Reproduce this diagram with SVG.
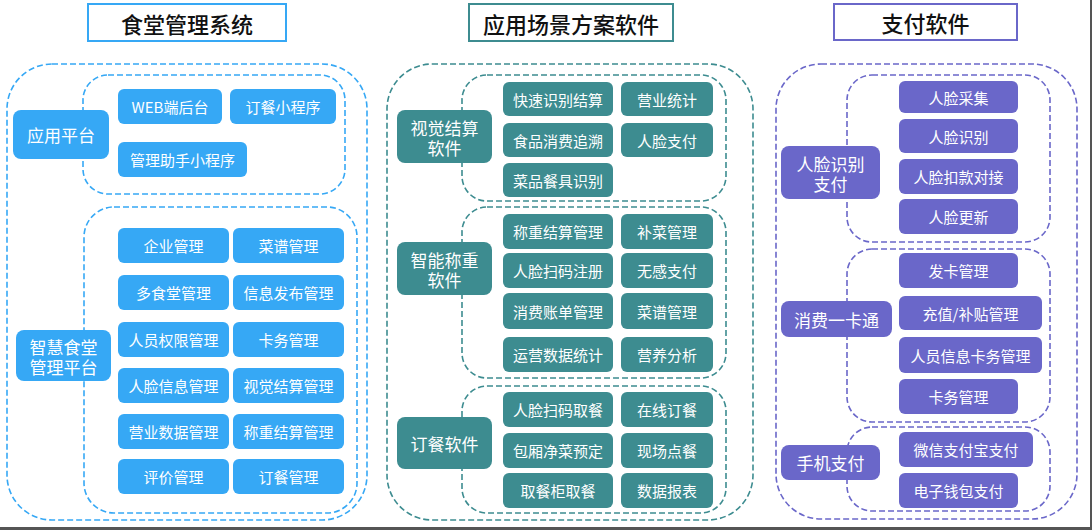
<svg xmlns="http://www.w3.org/2000/svg" width="1092" height="530" viewBox="0 0 1092 530">
<defs>
<style>
.title{fill:#fff;stroke-width:2}
.tt{font-family:"Noto Sans CJK SC","Noto Sans",sans-serif;font-size:22px;fill:#111;text-anchor:middle;dominant-baseline:central;font-weight:500}
.lbl{font-family:"Noto Sans CJK SC","Noto Sans",sans-serif;fill:#fff;text-anchor:middle;dominant-baseline:central;font-size:15px}
.cat{font-size:17px}
.dash{fill:none;stroke-width:1.6;stroke-dasharray:6 3}
.b{fill:#36A8F5}.bs{stroke:#36A8F5}
.t{fill:#3D8C90}.ts{stroke:#3D8C90}
.p{fill:#6A67C9}.ps{stroke:#6A67C9}
</style>
</defs>
<rect x="0" y="0" width="1092" height="530" fill="#fff"/>
<!-- containers -->
<g id="containers">
<rect class="dash bs" x="7" y="64" width="360" height="456" rx="45"/>
<rect class="dash bs" x="83" y="75" width="262" height="119" rx="25"/>
<rect class="dash bs" x="84" y="207" width="273" height="306" rx="30"/>
<rect class="dash ts" x="387" y="64" width="366" height="456" rx="45"/>
<rect class="dash ts" x="462" y="75" width="264" height="126" rx="25"/>
<rect class="dash ts" x="462" y="207" width="264" height="171" rx="25"/>
<rect class="dash ts" x="462" y="386" width="264" height="127" rx="25"/>
<rect class="dash ps" x="776" y="64" width="301" height="455" rx="45"/>
<rect class="dash ps" x="847" y="75" width="203" height="167" rx="25"/>
<rect class="dash ps" x="847" y="249" width="203" height="173" rx="25"/>
<rect class="dash ps" x="847" y="427" width="203" height="84" rx="25"/>
</g>
<g id="connectors"></g>
<!-- titles -->
<g id="title1"><rect class="title bs" x="88" y="4" width="198" height="37"/><text class="tt" x="187" y="23">食堂管理系统</text></g>
<g id="title2"><rect class="title ts" x="469" y="4" width="204" height="37"/><text class="tt" x="571" y="23">应用场景方案软件</text></g>
<g id="title3"><rect class="title ps" x="834" y="4" width="183" height="36"/><text class="tt" x="925.5" y="22">支付软件</text></g>
<!-- column 1 -->
<g id="n-yypt"><rect class="b" x="13" y="110" width="96" height="49" rx="8"/><text class="lbl cat" x="61" y="134.5">应用平台</text></g>
<g id="n-web"><rect class="b" x="118" y="89" width="104" height="35" rx="6"/><text class="lbl" x="170" y="106.5">WEB端后台</text></g>
<g id="n-dcxcx"><rect class="b" x="230" y="89" width="106" height="35" rx="6"/><text class="lbl" x="283" y="106.5">订餐小程序</text></g>
<g id="n-glzs"><rect class="b" x="118" y="142" width="129" height="35" rx="6"/><text class="lbl" x="182.5" y="159.5">管理助手小程序</text></g>
<g id="n-zhst"><rect class="b" x="16" y="330" width="95" height="51" rx="8"/><text class="lbl cat" x="63.5" y="355.5"><tspan x="63.5" dy="-10">智慧食堂</tspan><tspan x="63.5" dy="20">管理平台</tspan></text></g>
<g id="n-qygl"><rect class="b" x="118" y="228" width="111" height="35" rx="6"/><text class="lbl" x="173.5" y="245.5">企业管理</text></g>
<g id="n-cpgl"><rect class="b" x="233" y="228" width="111" height="35" rx="6"/><text class="lbl" x="288.5" y="245.5">菜谱管理</text></g>
<g id="n-dstgl"><rect class="b" x="118" y="275" width="111" height="35" rx="6"/><text class="lbl" x="173.5" y="292.5">多食堂管理</text></g>
<g id="n-xxfb"><rect class="b" x="233" y="275" width="111" height="35" rx="6"/><text class="lbl" x="288.5" y="292.5">信息发布管理</text></g>
<g id="n-rygl"><rect class="b" x="118" y="322" width="111" height="35" rx="6"/><text class="lbl" x="173.5" y="339.5">人员权限管理</text></g>
<g id="n-kwgl"><rect class="b" x="233" y="322" width="111" height="35" rx="6"/><text class="lbl" x="288.5" y="339.5">卡务管理</text></g>
<g id="n-rlxx"><rect class="b" x="118" y="368" width="111" height="35" rx="6"/><text class="lbl" x="173.5" y="385.5">人脸信息管理</text></g>
<g id="n-sjjs"><rect class="b" x="233" y="368" width="111" height="35" rx="6"/><text class="lbl" x="288.5" y="385.5">视觉结算管理</text></g>
<g id="n-yysj"><rect class="b" x="118" y="414" width="111" height="35" rx="6"/><text class="lbl" x="173.5" y="431.5">营业数据管理</text></g>
<g id="n-czjs"><rect class="b" x="233" y="414" width="111" height="35" rx="6"/><text class="lbl" x="288.5" y="431.5">称重结算管理</text></g>
<g id="n-pjgl"><rect class="b" x="118" y="459" width="111" height="35" rx="6"/><text class="lbl" x="173.5" y="476.5">评价管理</text></g>
<g id="n-dcgl"><rect class="b" x="233" y="459" width="111" height="35" rx="6"/><text class="lbl" x="288.5" y="476.5">订餐管理</text></g>
<!-- column 2 -->
<g id="n-sjjsrj"><rect class="t" x="397" y="110" width="95" height="53" rx="8"/><text class="lbl cat" x="444.5" y="136.5"><tspan x="444.5" dy="-10">视觉结算</tspan><tspan x="444.5" dy="20">软件</tspan></text></g>
<g id="n-ksjs"><rect class="t" x="503" y="82" width="110" height="34" rx="6"/><text class="lbl" x="558" y="99">快速识别结算</text></g>
<g id="n-yytj"><rect class="t" x="621" y="82" width="92" height="34" rx="6"/><text class="lbl" x="667" y="99">营业统计</text></g>
<g id="n-spxf"><rect class="t" x="503" y="123" width="110" height="34" rx="6"/><text class="lbl" x="558" y="140">食品消费追溯</text></g>
<g id="n-rlzf"><rect class="t" x="621" y="123" width="92" height="34" rx="6"/><text class="lbl" x="667" y="140">人脸支付</text></g>
<g id="n-cpcj"><rect class="t" x="503" y="163" width="110" height="34" rx="6"/><text class="lbl" x="558" y="180">菜品餐具识别</text></g>
<g id="n-znczrj"><rect class="t" x="397" y="242" width="95" height="53" rx="8"/><text class="lbl cat" x="444.5" y="268.5"><tspan x="444.5" dy="-10">智能称重</tspan><tspan x="444.5" dy="20">软件</tspan></text></g>
<g id="n-czjsgl"><rect class="t" x="503" y="214" width="110" height="35" rx="6"/><text class="lbl" x="558" y="231.5">称重结算管理</text></g>
<g id="n-bcgl"><rect class="t" x="621" y="214" width="92" height="35" rx="6"/><text class="lbl" x="667" y="231.5">补菜管理</text></g>
<g id="n-rlsmzc"><rect class="t" x="503" y="253" width="110" height="35" rx="6"/><text class="lbl" x="558" y="270.5">人脸扫码注册</text></g>
<g id="n-wgzf"><rect class="t" x="621" y="253" width="92" height="35" rx="6"/><text class="lbl" x="667" y="270.5">无感支付</text></g>
<g id="n-xfzd"><rect class="t" x="503" y="293" width="110" height="36" rx="6"/><text class="lbl" x="558" y="311">消费账单管理</text></g>
<g id="n-cpgl2"><rect class="t" x="621" y="293" width="92" height="36" rx="6"/><text class="lbl" x="667" y="311">菜谱管理</text></g>
<g id="n-yysjtj"><rect class="t" x="503" y="337" width="110" height="35" rx="6"/><text class="lbl" x="558" y="354.5">运营数据统计</text></g>
<g id="n-yyfx"><rect class="t" x="621" y="337" width="92" height="35" rx="6"/><text class="lbl" x="667" y="354.5">营养分析</text></g>
<g id="n-dcrj"><rect class="t" x="397" y="417" width="95" height="52" rx="8"/><text class="lbl cat" x="444.5" y="443">订餐软件</text></g>
<g id="n-rlsmqc"><rect class="t" x="503" y="392" width="110" height="35" rx="6"/><text class="lbl" x="558" y="409.5">人脸扫码取餐</text></g>
<g id="n-zxdc"><rect class="t" x="621" y="392" width="92" height="35" rx="6"/><text class="lbl" x="667" y="409.5">在线订餐</text></g>
<g id="n-bxjc"><rect class="t" x="503" y="433" width="110" height="35" rx="6"/><text class="lbl" x="558" y="450.5">包厢净菜预定</text></g>
<g id="n-xcdc"><rect class="t" x="621" y="433" width="92" height="35" rx="6"/><text class="lbl" x="667" y="450.5">现场点餐</text></g>
<g id="n-qcgqc"><rect class="t" x="503" y="473" width="110" height="35" rx="6"/><text class="lbl" x="558" y="490.5">取餐柜取餐</text></g>
<g id="n-sjbb"><rect class="t" x="621" y="473" width="92" height="35" rx="6"/><text class="lbl" x="667" y="490.5">数据报表</text></g>
<!-- column 3 -->
<g id="n-rlsbzf"><rect class="p" x="781" y="146" width="99" height="53" rx="8"/><text class="lbl cat" x="830.5" y="172.5"><tspan x="830.5" dy="-10">人脸识别</tspan><tspan x="830.5" dy="20">支付</tspan></text></g>
<g id="n-rlcj"><rect class="p" x="899" y="81" width="119" height="32" rx="6"/><text class="lbl" x="958.5" y="97">人脸采集</text></g>
<g id="n-rlsb"><rect class="p" x="899" y="119" width="119" height="34" rx="6"/><text class="lbl" x="958.5" y="136">人脸识别</text></g>
<g id="n-rlkk"><rect class="p" x="899" y="159" width="119" height="35" rx="6"/><text class="lbl" x="958.5" y="176.5">人脸扣款对接</text></g>
<g id="n-rlgx"><rect class="p" x="899" y="199" width="119" height="35" rx="6"/><text class="lbl" x="958.5" y="216.5">人脸更新</text></g>
<g id="n-xfykt"><rect class="p" x="781" y="301" width="111" height="36" rx="8"/><text class="lbl cat" x="836.5" y="319">消费一卡通</text></g>
<g id="n-fkgl"><rect class="p" x="899" y="253" width="119" height="35" rx="6"/><text class="lbl" x="958.5" y="270.5">发卡管理</text></g>
<g id="n-czbt"><rect class="p" x="899" y="296" width="143" height="34" rx="6"/><text class="lbl" x="970.5" y="313">充值/补贴管理</text></g>
<g id="n-ryxx"><rect class="p" x="899" y="337" width="143" height="36" rx="6"/><text class="lbl" x="970.5" y="355">人员信息卡务管理</text></g>
<g id="n-kwgl2"><rect class="p" x="899" y="379" width="119" height="35" rx="6"/><text class="lbl" x="958.5" y="396.5">卡务管理</text></g>
<g id="n-sjzf"><rect class="p" x="781" y="445" width="99" height="35" rx="8"/><text class="lbl cat" x="830.5" y="462.5">手机支付</text></g>
<g id="n-wxzfb"><rect class="p" x="899" y="432" width="134" height="35" rx="6"/><text class="lbl" x="966" y="449.5">微信支付宝支付</text></g>
<g id="n-dzqb"><rect class="p" x="899" y="473" width="119" height="35" rx="6"/><text class="lbl" x="958.5" y="490.5">电子钱包支付</text></g>
<!-- frame edges -->
<line x1="0" y1="528.5" x2="1092" y2="528.5" stroke="#555" stroke-width="3"/>
<line x1="1091" y1="0" x2="1091" y2="530" stroke="#555" stroke-width="2"/>
</svg>
